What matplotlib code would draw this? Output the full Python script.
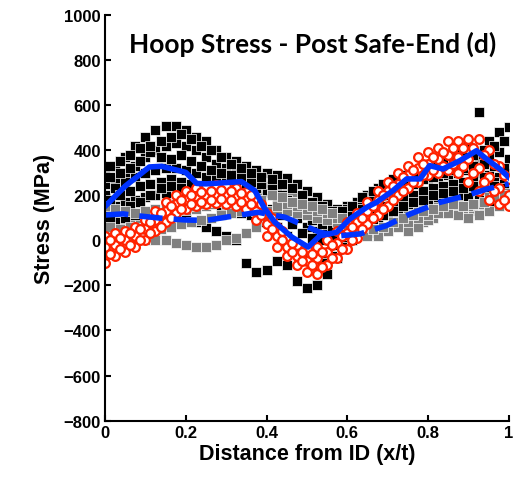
import matplotlib
matplotlib.use("Agg")
import matplotlib.pyplot as plt

# distance through wall (x/t), two interleaved sampling grids
xt = [0.0, 0.025, 0.05, 0.075, 0.1, 0.125, 0.15, 0.175, 0.2, 0.225,
      0.25, 0.275, 0.3, 0.325, 0.35, 0.375, 0.4, 0.425, 0.45, 0.475,
      0.5, 0.525, 0.55, 0.575, 0.6, 0.625, 0.65, 0.675, 0.7, 0.725,
      0.75, 0.775, 0.8, 0.825, 0.85, 0.875, 0.9, 0.925, 0.95, 0.975, 1.0]
xt_b = [0.0125, 0.0375, 0.0625, 0.0875, 0.1125, 0.1375, 0.1625, 0.1875, 0.2125, 0.2375,
        0.2625, 0.2875, 0.3125, 0.3375, 0.3625, 0.3875, 0.4125, 0.4375, 0.4625, 0.4875,
        0.5125, 0.5375, 0.5625, 0.5875, 0.6125, 0.6375, 0.6625, 0.6875, 0.7125, 0.7375,
        0.7625, 0.7875, 0.8125, 0.8375, 0.8625, 0.8875, 0.9125, 0.9375, 0.9625, 0.9875]

# black square measurements (MPa)
blk1 = [300, 330, 370, 420, 460, 490, 505, 505, 490, 460,
        440, 400, 370, 350, 330, 310, 300, 290, 275, 250,
        220, 190, 160, 140, 150, 170, 200, 230, 250, 270,
        290, 310, 330, 350, 380, 400, 420, 570, 440, 480, 500]
blk2 = [250, 270, 300, 330, 370, 400, 420, 430, 420, 400,
        370, 340, 320, 300, 290, 270, 240, 210, 180, 150,
        120, 100, 90, 110, 140, 170, 200, 220, 240, 250,
        260, 280, 300, 320, 330, 340, 350, 360, 370, 390, 360]
blk3 = [200, 230, 260, 280, 300, 310, 320, 320, 310, 300,
        280, 270, 260, 250, 240, 230, 210, 180, 150, 100,
        60, 40, 30, 40, 70, 110, 150, 180, 200, 210,
        230, 250, 270, 280, 290, 300, 310, 300, 290, 280, 300]
blk4 = [120, 150, 170, 180, 190, 200, 210, 220, 220, 210,
        200, 190, 180, 170, 150, 120, 100, 60, 20, -20,
        -60, -80, -60, -20, 20, 50, 80, 100, 120, 140,
        160, 170, 190, 200, 210, 220, 230, 230, 220, 210, 200]
blk5 = [60, 80, 100, 110, 120, 120, 110, 100, 90, 80,
        60, 40, 20, 0, -100, -140, -130, -90, -110, -180,
        -210, -200, -150, -80, -20, 30, 70, 100, 120, 140,
        160, 170, 180, 190, 200, 200, 190, 180, 170, 180, 200]
blk6 = [330, 300, 320, 350, 390, 370, 360, 380, 350, 330,
        310, 300, 290, 280, 260, 250, 230, 200, 170, 130,
        90, 70, 60, 80, 110, 140, 180, 200, 230, 240,
        250, 270, 280, 300, 310, 320, 330, 340, 330, 320]
blk7 = [180, 200, 220, 240, 250, 260, 270, 260, 250, 240,
        230, 220, 210, 200, 190, 170, 140, 110, 70, 30,
        10, 0, 10, 30, 60, 90, 120, 150, 170, 190,
        200, 220, 230, 240, 250, 260, 270, 280, 260, 250]
blk8 = [280, 350, 380, 410, 420, 440, 460, 470, 450, 420,
        400, 370, 340, 320, 300, 280, 270, 250, 230, 200,
        170, 150, 130, 130, 150, 190, 220, 250, 270, 290,
        300, 320, 340, 360, 370, 370, 380, 400, 420, 440]
blk9 = [100, 130, 150, 170, 200, 230, 240, 230, 200, 180,
        170, 150, 130, 120, 110, 80, 40, -10, -40, -80,
        -110, -100, -70, -30, 0, 40, 80, 110, 130, 150,
        170, 180, 200, 210, 220, 230, 240, 250, 240, 230]

# grey square measurements (MPa)
gry1 = [30, 20, 10, 0, 0, 0, 0, -10, -20, -30,
        -30, -20, 0, 10, 30, 60, 90, 120, 130, 120,
        110, 100, 90, 80, 70, 60, 50, 50, 60, 80,
        40, 60, 90, 140, 150, 130, 150, 160, 190, 200, 210]
gry2 = [100, 90, 80, 80, 90, 100, 110, 120, 130, 140,
        150, 160, 170, 180, 200, 220, 240, 230, 210, 190,
        170, 150, 130, 110, 100, 90, 90, 100, 110, 120,
        140, 150, 160, 170, 180, 190, 200, 210, 220, 230, 240]
gry3 = [150, 140, 130, 120, 130, 140, 150, 160, 170, 170,
        170, 170, 160, 150, 140, 130, 130, 150, 160, 150,
        140, 130, 120, 100, 70, 40, 20, 20, 40, 60,
        80, 100, 110, 120, 120, 110, 100, 110, 130, 150, 170]
gry4 = [60, 50, 60, 50, 40, 50, 60, 70, 80, 90,
        100, 110, 120, 130, 160, 180, 200, 190, 170, 160,
        150, 140, 120, 100, 80, 60, 50, 60, 80, 100,
        110, 130, 140, 150, 160, 150, 160, 170, 190, 200]
gry5 = [130, 110, 100, 100, 110, 120, 130, 140, 150, 160,
        160, 150, 140, 160, 180, 200, 220, 210, 190, 180,
        160, 130, 110, 90, 60, 40, 30, 40, 60, 70,
        60, 80, 100, 120, 130, 120, 130, 150, 170, 190]

# red circle measurements (MPa)
red1 = [20, 30, 40, 60, 90, 130, 170, 200, 220, 230,
        240, 245, 240, 230, 215, 180, 120, 60, 10, -20,
        -40, -30, 0, 40, 80, 120, 170, 220, 260, 300,
        330, 370, 390, 410, 440, 440, 450, 450, 400, 330, 270]
red2 = [-30, -20, 0, 20, 50, 90, 130, 160, 180, 195,
        200, 205, 200, 195, 180, 130, 70, 20, -30, -70,
        -90, -80, -50, -10, 30, 80, 130, 180, 220, 250,
        290, 320, 340, 360, 380, 370, 360, 320, 280, 230, 200]
red3 = [-100, -70, -50, -30, 0, 40, 80, 120, 140, 150,
        160, 165, 160, 150, 140, 90, 20, -30, -70, -110,
        -140, -150, -110, -80, -40, 10, 70, 110, 150, 200,
        230, 260, 290, 300, 310, 300, 260, 220, 180, 160, 150]
red4 = [0, 10, 30, 50, 80, 120, 150, 180, 200, 215,
        220, 225, 220, 210, 200, 160, 100, 40, -10, -50,
        -60, -50, -20, 20, 60, 100, 150, 200, 240, 280,
        310, 340, 370, 390, 410, 410, 410, 380, 340, 290]
red5 = [-60, -40, -20, 0, 30, 60, 100, 140, 160, 170,
        180, 185, 180, 170, 160, 110, 50, 0, -50, -90,
        -110, -120, -80, -40, 0, 50, 100, 140, 180, 220,
        260, 290, 310, 330, 340, 330, 300, 260, 220, 180]

# averaged profiles
solid_x = [0.0, 0.05, 0.11, 0.14, 0.2, 0.227, 0.25, 0.338, 0.371, 0.396,
           0.42, 0.462, 0.503, 0.532, 0.573, 0.606, 0.648, 0.672, 0.713,
           0.747, 0.78, 0.804, 0.837, 0.879, 0.92, 0.945, 0.978, 1.0]
solid_y = [150, 240, 325, 328, 301, 252, 250, 260, 220, 139,
           81, 15, -30, 20, 35, 94, 146, 168, 220,
           272, 272, 331, 316, 353, 397, 360, 316, 279]
dash_x = [0.0, 0.045, 0.078, 0.144, 0.2, 0.25, 0.313, 0.379, 0.446, 0.503,
          0.532, 0.582, 0.631, 0.697, 0.755, 0.829, 0.895, 0.945, 1.0]
dash_y = [112, 117, 109, 97, 90, 88, 106, 124, 102, 58,
          35, 20, 28, 65, 116, 168, 198, 227, 250]

fig = plt.figure(figsize=(5.24, 4.85), dpi=100)
ax = fig.add_axes([0.2004, 0.1305, 0.7706, 0.8371])

sq = dict(marker="s", linestyle="none", markersize=6.8,
          markeredgecolor="white", markeredgewidth=0.5)
circ = dict(marker="o", linestyle="none", markersize=6.3,
            markerfacecolor="white", markeredgecolor="#ff2200",
            markeredgewidth=1.6)

# some grey runs sit under the black ones, others on top
for xs, g in [(xt, gry2), (xt_b, gry5)]:
    ax.plot(xs, g, color="#808080", markerfacecolor="#808080", **sq)
for xs, b in [(xt, blk1), (xt, blk2), (xt, blk3), (xt, blk4), (xt, blk5),
              (xt_b, blk6), (xt_b, blk7), (xt_b, blk8), (xt_b, blk9)]:
    ax.plot(xs, b, color="black", markerfacecolor="black", **sq)
for xs, g in [(xt, gry1), (xt, gry3), (xt_b, gry4)]:
    ax.plot(xs, g, color="#808080", markerfacecolor="#808080", **sq)
for xs, r in [(xt, red1), (xt, red2), (xt, red3), (xt_b, red4), (xt_b, red5)]:
    ax.plot(xs, r, **circ)

ax.plot(solid_x, solid_y, color="#0033ff", linewidth=4)
ax.plot(dash_x, dash_y, color="#0033ff", linewidth=4, dashes=(4.2, 2.0))

ax.set_xlim(0, 1)
ax.set_ylim(-800, 1000)
ax.set_xticks([0, 0.2, 0.4, 0.6, 0.8, 1])
ax.set_xticklabels(["0", "0.2", "0.4", "0.6", "0.8", "1"])
ax.set_yticks(range(-800, 1001, 200))

for s in ["top", "right"]:
    ax.spines[s].set_visible(False)
for s in ["left", "bottom"]:
    ax.spines[s].set_linewidth(1.5)
ax.tick_params(direction="in", length=4, width=1.5, pad=3,
               labelsize=12)
for lab in ax.get_xticklabels() + ax.get_yticklabels():
    lab.set_fontfamily("Liberation Sans")
    lab.set_fontweight("bold")

ax.set_xlabel("Distance from ID (x/t)", fontsize=15.5, fontweight="bold",
              family="Liberation Sans", labelpad=2)
ax.set_ylabel("Stress (MPa)", fontsize=15.5, fontweight="bold",
              family="Liberation Sans", labelpad=6)
ax.text(0.515, 0.908, "Hoop Stress - Post Safe-End (d)", transform=ax.transAxes,
        ha="center", va="baseline", fontsize=19, fontweight="bold",
        family="Lato")

fig.savefig("out.png", dpi=100)
